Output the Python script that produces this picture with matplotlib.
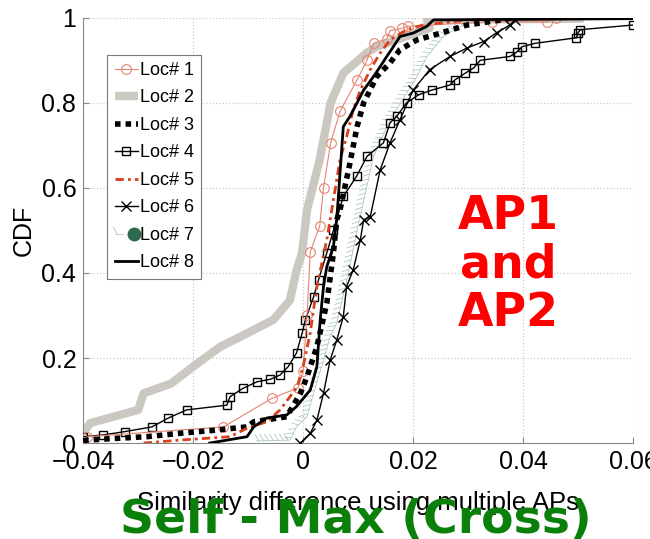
import matplotlib
matplotlib.use("Agg")
import matplotlib.pyplot as plt
import matplotlib.patheffects as pe
from matplotlib.lines import Line2D
from matplotlib.legend_handler import HandlerTuple

# CDF curves (x = similarity difference, y = CDF)
loc1_x = [-0.0393, -0.0145, -0.0057, -0.0009, 0.0, 0.0007, 0.0013, 0.003, 0.0037, 0.005, 0.0067,
          0.0098, 0.0116, 0.0128, 0.0152, 0.0158, 0.018, 0.019, 0.0343, 0.0443, 0.046]
loc1_y = [0.015, 0.038, 0.105, 0.13, 0.17, 0.3, 0.45, 0.51, 0.6, 0.706, 0.78,
          0.854, 0.90, 0.94, 0.95, 0.97, 0.975, 0.98, 0.991, 0.99, 1.0]

loc2_x = [-0.04, -0.0387, -0.0345, -0.030, -0.029, -0.024, -0.020, -0.015, -0.0102, -0.0054, -0.0024,
          -0.0012, -0.0002, 0.0007, 0.003, 0.005, 0.0073, 0.0116, 0.0134, 0.0152, 0.023, 0.0225, 0.051]
loc2_y = [0.024, 0.047, 0.062, 0.078, 0.117, 0.14, 0.18, 0.227, 0.258, 0.29, 0.336,
          0.407, 0.447, 0.548, 0.666, 0.80, 0.87, 0.918, 0.932, 0.94, 0.976, 0.995, 0.998]

loc3_x = [-0.04, -0.0393, -0.0327, -0.0284, -0.0224, -0.0163, -0.0102, -0.009, -0.003, -0.0005, 0.0007,
          0.0025, 0.0043, 0.0055, 0.0061, 0.0067, 0.0085, 0.0098, 0.011, 0.0134, 0.0158, 0.0176,
          0.0207, 0.025, 0.0298, 0.036, 0.038]
loc3_y = [0.005, 0.007, 0.012, 0.015, 0.023, 0.03, 0.038, 0.05, 0.062, 0.117, 0.156,
          0.227, 0.329, 0.447, 0.525, 0.548, 0.658, 0.744, 0.80, 0.862, 0.894, 0.925,
          0.948, 0.964, 0.983, 0.995, 1.0]

loc4_x = [-0.04, -0.0364, -0.0324, -0.0275, -0.0245, -0.0212, -0.0139, -0.0133, -0.0109, -0.0084,
          -0.006, -0.0042, -0.0027, -0.0012, -0.0002, 0.0004, 0.0019, 0.0028, 0.0043, 0.0055, 0.0073,
          0.0097, 0.0116, 0.0146, 0.0158, 0.017, 0.0188, 0.021, 0.0234, 0.0267, 0.0276, 0.0295,
          0.031, 0.0322, 0.0376, 0.0389, 0.0398, 0.0422, 0.0497, 0.05, 0.0504, 0.06]
loc4_y = [0.015, 0.019, 0.027, 0.038, 0.059, 0.078, 0.089, 0.109, 0.129, 0.144,
          0.15, 0.16, 0.18, 0.212, 0.258, 0.29, 0.344, 0.384, 0.447, 0.50, 0.58,
          0.627, 0.674, 0.706, 0.753, 0.768, 0.80, 0.819, 0.83, 0.842, 0.854, 0.87,
          0.882, 0.90, 0.909, 0.92, 0.932, 0.94, 0.953, 0.965, 0.972, 0.983]

loc5_x = [-0.029, -0.0224, -0.0133, -0.0102, -0.0066, -0.0042, -0.0024, -0.0011, 0.0, 0.0013,
          0.0025, 0.0043, 0.0067, 0.0079, 0.0091, 0.0104, 0.0122, 0.014, 0.0158, 0.0188, 0.0218,
          0.03, 0.0445]
loc5_y = [0.0, 0.007, 0.015, 0.035, 0.05, 0.078, 0.109, 0.132, 0.18, 0.26,
          0.368, 0.478, 0.666, 0.72, 0.784, 0.83, 0.878, 0.917, 0.948, 0.972, 0.983,
          0.995, 0.998]

loc6_x = [-0.0005, 0.0013, 0.0025, 0.0037, 0.0049, 0.0061, 0.0073, 0.0079, 0.0091, 0.0104, 0.011,
          0.0122, 0.014, 0.0158, 0.0176, 0.02, 0.023, 0.0267, 0.0298, 0.0328, 0.0352, 0.0376, 0.0385]
loc6_y = [0.0, 0.023, 0.054, 0.117, 0.195, 0.242, 0.297, 0.368, 0.407, 0.478, 0.525,
          0.532, 0.642, 0.706, 0.76, 0.83, 0.878, 0.909, 0.929, 0.944, 0.965, 0.983, 0.995]

loc7_x = [-0.0085, -0.0024, -0.0012, 0.0007, 0.0019, 0.0037, 0.0049, 0.0061, 0.0079, 0.0098,
          0.0128, 0.0158, 0.0207, 0.0225, 0.0255, 0.028, 0.032]
loc7_y = [0.005, 0.007, 0.038, 0.062, 0.117, 0.195, 0.25, 0.282, 0.38, 0.5,
          0.674, 0.76, 0.862, 0.909, 0.956, 0.976, 0.995]

loc8_x = [-0.017, -0.0102, -0.009, -0.0066, -0.003, -0.0012, 0.0013, 0.0025, 0.0031, 0.0037, 0.0043,
          0.0055, 0.0061, 0.0073, 0.0085, 0.0098, 0.011, 0.0128, 0.014, 0.0152, 0.0164, 0.0176,
          0.02, 0.0225, 0.0237, 0.06]
loc8_y = [0.0, 0.015, 0.038, 0.059, 0.066, 0.086, 0.125, 0.18, 0.29, 0.368, 0.415,
          0.462, 0.525, 0.744, 0.768, 0.80, 0.83, 0.862, 0.885, 0.909, 0.932, 0.956,
          0.964, 0.98, 0.995, 0.998]

x_ticks = [-0.04, -0.02, 0.0, 0.02, 0.04, 0.06]
x_tick_labels = ["\u22120.04", "\u22120.02", "0", "0.02", "0.04", "0.06"]
y_ticks = [0, 0.2, 0.4, 0.6, 0.8, 1.0]
y_tick_labels = ["0", "0.2", "0.4", "0.6", "0.8", "1"]

plt.rcParams['font.family'] = ['Liberation Sans', 'DejaVu Sans']

fig = plt.figure(figsize=(6.5, 5.39), dpi=100)
ax = fig.add_axes([0.128, 0.178, 0.846, 0.789])

ax.plot(loc2_x, loc2_y, color='#cbc8c2', lw=6, solid_capstyle='butt', label='Loc# 2', zorder=2)
l7, = ax.plot(loc7_x, loc7_y, color='#a3c0b3', lw=0.5, zorder=3,
              path_effects=[pe.withTickedStroke(spacing=3.5, angle=120, length=1.5, linewidth=0.5)])
ax.plot(loc4_x, loc4_y, color='black', lw=1, marker='s', ms=5.5, mfc='none', mew=1,
        label='Loc# 4', zorder=4)
ax.plot(loc1_x, loc1_y, color='#e58470', lw=0.8, marker='o', ms=7, mfc='none', mew=0.8,
        label='Loc# 1', zorder=4)
ax.plot(loc3_x, loc3_y, color='black', lw=4, ls=(0, (1, 0.9)), label='Loc# 3', zorder=5)
ax.plot(loc5_x, loc5_y, color='#d8401c', lw=2, ls=(0, (3, 1.5, 1, 1.5)), label='Loc# 5', zorder=5)
ax.plot(loc6_x, loc6_y, color='black', lw=1, marker='x', ms=7, mew=1, label='Loc# 6', zorder=5)
ax.plot(loc8_x, loc8_y, color='black', lw=2, label='Loc# 8', zorder=6)

ax.set_xlim(-0.04, 0.06)
ax.set_ylim(0, 1)
ax.set_xticks(x_ticks, x_tick_labels)
ax.set_yticks(y_ticks, y_tick_labels)
ax.tick_params(direction='in', length=4, color='#888888', labelsize=18, pad=5)
ax.grid(True, ls=':', color='#cccccc', lw=0.9)
for s in ['top', 'right']:
    ax.spines[s].set_visible(False)
for s in ['left', 'bottom']:
    ax.spines[s].set_color('#888888')
    ax.spines[s].set_linewidth(0.8)

ax.set_xlabel('Similarity difference using multiple APs', fontsize=18.5, labelpad=12)
ax.set_ylabel('CDF', fontsize=18, labelpad=4)

# legend in the Loc order, Loc# 7 gets a ticked line with a green dot
dot7 = Line2D([], [], ls='none', marker='o', ms=9, color='#2e6a4e')
h, lab = ax.get_legend_handles_labels()
by = dict(zip(lab, h))
handles = [by['Loc# 1'], by['Loc# 2'], by['Loc# 3'], by['Loc# 4'], by['Loc# 5'], by['Loc# 6'],
           (l7, dot7), by['Loc# 8']]
labels = ['Loc# %d' % i for i in range(1, 9)]
leg = ax.legend(handles, labels, loc='upper left', bbox_to_anchor=(0.044, 0.913),
                fontsize=13, handlelength=1.3, handletextpad=0.1, labelspacing=0.58,
                borderpad=0.4, borderaxespad=0, fancybox=False, framealpha=1,
                handler_map={tuple: HandlerTuple(ndivide=None)})
leg.get_frame().set_edgecolor('#777777')
leg.get_frame().set_linewidth(0.8)

ax.text(0.773, 0.419, 'AP1\nand\nAP2', transform=ax.transAxes, ha='center', va='center',
        color='red', fontsize=33, fontweight='bold', family='DejaVu Sans', linespacing=1.1)
fig.text(0.548, 0.011, 'Self - Max (Cross)', ha='center', va='baseline', color='#0a800a',
         fontsize=34, fontweight='bold', family='DejaVu Sans')

fig.savefig('out.png', dpi=100)
